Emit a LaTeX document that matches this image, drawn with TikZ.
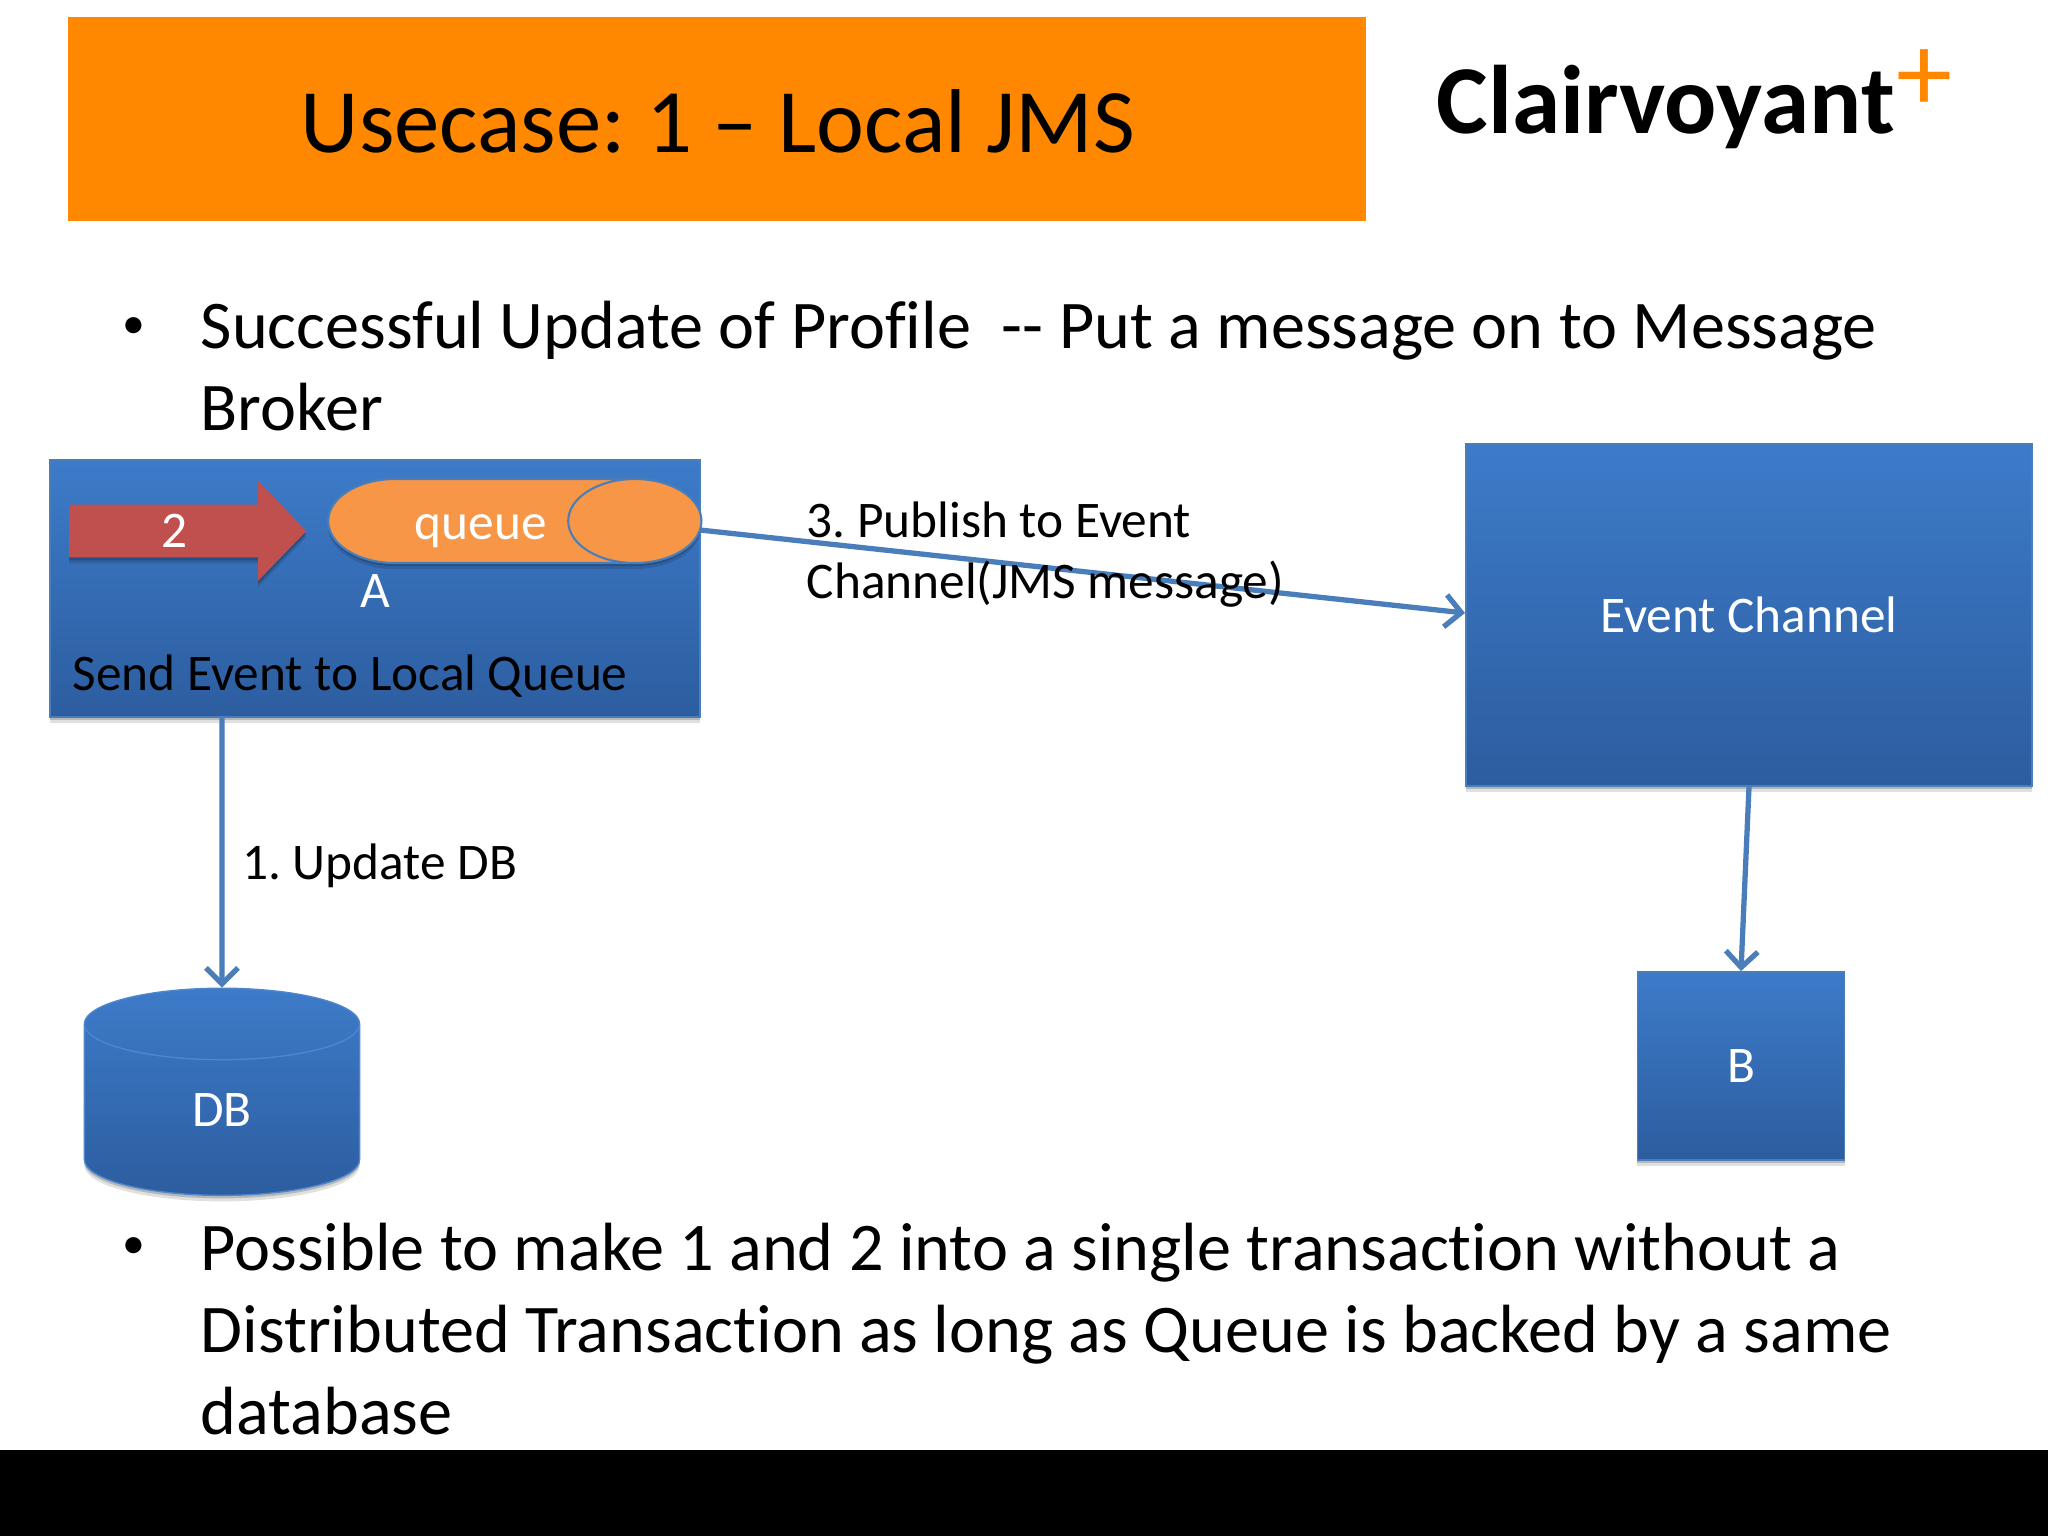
\documentclass[tikz,border=0pt]{standalone}
\usepackage{fontspec}
\setmainfont{Carlito}[Ligatures=NoCommon]
\usetikzlibrary{shapes.geometric, shapes.arrows, arrows.meta, positioning, shadows}

\definecolor{bannerorange}{HTML}{FF8800}
\definecolor{boxtop}{HTML}{3D7BC9}
\definecolor{boxbottom}{HTML}{2C5D9F}
\definecolor{linkblue}{HTML}{4A7EBB}
\definecolor{queueorange}{HTML}{F79646}
\definecolor{arrowred}{HTML}{C0504D}

\newcommand{\sz}[1]{\fontsize{#1}{#1}\selectfont}

\begin{document}
\frenchspacing
\begin{tikzpicture}[
    x=0.01cm, y=-0.01cm,
    softshadow/.style={drop shadow={shadow xshift=0cm, shadow yshift=-0.06cm, opacity=0.12, fill=black},
                       drop shadow={shadow xshift=0cm, shadow yshift=-0.03cm, opacity=0.18, fill=black}},
    bluebox/.style={rectangle, draw=linkblue, line width=0.5pt, top color=boxtop, bottom color=boxbottom, inner sep=0pt, softshadow},
    boxtext/.style={font=\sz{14.6}, text=white},
    blacktext/.style={font=\sz{14.6}, text=black, anchor=base west, inner sep=0pt},
    bullettext/.style={font=\fontsize{19.4}{23.33}\selectfont, anchor=north west, inner sep=0pt, align=left},
    bulletdot/.style={font=\sz{13}, inner sep=0pt},
    arrow/.style={line width=1.5pt, draw=linkblue, -{Straight Barb[length=0.16cm, width=0.32cm, line width=1.5pt]}}
]
\useasboundingbox (0,0) rectangle (2048,1536);

% ---------- title ----------
\fill[white] (0,0) rectangle (2048,1536);
\node (banner) [rectangle, fill=bannerorange, minimum width=12.98cm, minimum height=2.04cm, inner sep=0pt] at (717,119) {};
\node (title) [font=\sz{25.8}, inner sep=0pt] at (718,121) {Usecase: 1 – Local JMS};
\node (logo) [font=\bfseries\sz{27.7}, anchor=base west, inner sep=0pt] at (1436,133) {Clairvoyant};
\node (plus) [font=\sz{32}, text=bannerorange, inner sep=0pt] at (1925,81) {+};

% ---------- bullets ----------
\node (dotone) [bulletdot] at (134,328) {•};
\node (textone) [bullettext] at (200,300) {Successful Update of Profile~ -{}- Put a message on to Message\\Broker};
\node (dottwo) [bulletdot] at (134,1248) {•};
\node (texttwo) [bullettext] at (200,1222) {Possible to make 1 and 2 into a single transaction without a\\Distributed Transaction as long as Queue is backed by a same\\database};

% ---------- boxes ----------
\node (send) [bluebox, minimum width=6.5cm, minimum height=2.57cm] at (375,588.5) {};
\node (red) [single arrow, fill=arrowred, minimum width=1cm, minimum height=2.37cm, inner xsep=0pt, inner ysep=0.05cm,
    single arrow head extend=0.2cm, single arrow tip angle=92, single arrow head indent=0cm,
    softshadow, font=\sz{14.6}, text=white] at (175,531) {2};
\node (queue) [cylinder, draw=linkblue, line width=0.6pt, fill=queueorange, aspect=2.5, shape border rotate=0,
    minimum width=0.84cm, minimum height=3.73cm, inner sep=0pt, text height=12.8pt, softshadow, boxtext] at (481,521) {queue};
\node (nodea) [boxtext, inner sep=0pt] at (375,591) {A};
\node (sendtext) [blacktext] at (72,690) {Send Event to Local Queue};

\node (channel) [bluebox, minimum width=5.65cm, minimum height=3.42cm, boxtext] at (1749,615) {Event Channel};
\node (nodeb) [bluebox, below=1.84cm of channel, xshift=-0.08cm, minimum width=2.07cm, minimum height=1.88cm, boxtext] {B};
\node (db) [cylinder, draw=boxtop!92!white, line width=0.4pt, shape border rotate=90, aspect=1.2, top color=boxtop, bottom color=boxbottom,
    minimum width=2.75cm, minimum height=2.07cm, inner sep=0pt, softshadow, boxtext] at (222,1110) {DB};

% ---------- arrows ----------
\coordinate (queueout) at (700,530);
\coordinate (channelin) at (1465,613);
\draw [arrow] (queueout) -- (channelin);
\draw [arrow] (222,717) -- (db.north);
\draw [arrow] (channel.south) -- (nodeb.north);

% ---------- labels ----------
\node (publish) [blacktext] at (806,537) {3. Publish to Event};
\node (publishtwo) [blacktext] at (806,598) {Channel(JMS message)};
\node (update) [blacktext] at (241.5,879) {1. Update DB};

% ---------- bottom ----------
\fill[black] (0,1450) rectangle (2048,1536);
\end{tikzpicture}
\end{document}
